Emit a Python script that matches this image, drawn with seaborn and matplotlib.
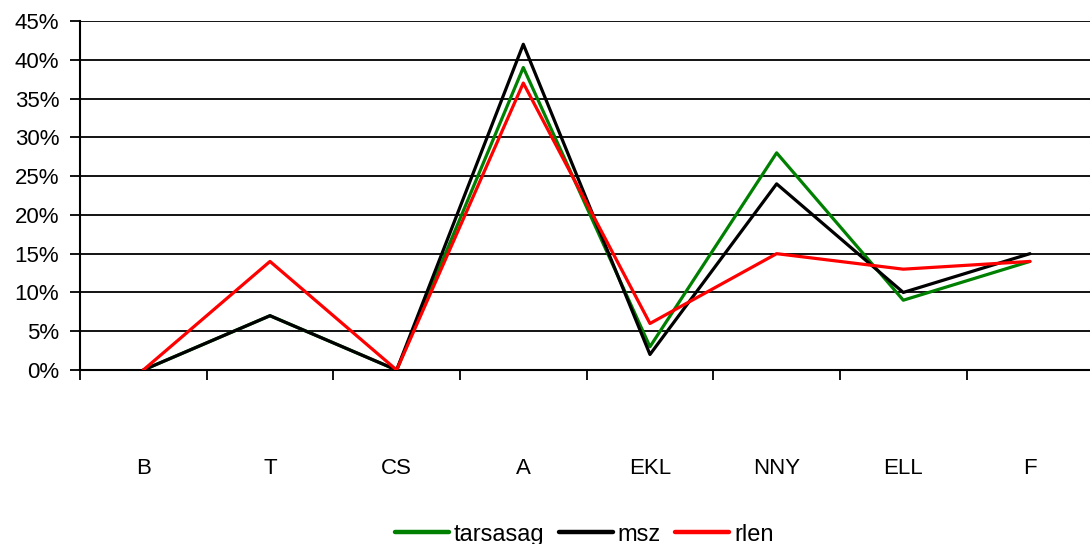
import matplotlib
matplotlib.use("Agg")
import matplotlib.pyplot as plt
import seaborn as sns
import pandas as pd
from matplotlib.ticker import FixedLocator, PercentFormatter

categories = ["B", "T", "CS", "A", "EKL", "NNY", "ELL", "F"]
tarsasag = [0, 7, 0, 39, 3, 28, 9, 14]
msz = [0, 7, 0, 42, 2, 24, 10, 15]
rlen = [0, 14, 0, 37, 6, 15, 13, 14]

series_names = ["tarsasag", "msz", "rlen"]
series_values = [tarsasag, msz, rlen]
colors = {"tarsasag": "#008000", "msz": "#000000", "rlen": "#ff0000"}

rows = []
for name, vals in zip(series_names, series_values):
    for i, (cat, v) in enumerate(zip(categories, vals)):
        rows.append({"pos": i, "cat": cat, "value": v, "series": name})
df = pd.DataFrame(rows)

sns.set_style("white")
plt.rcParams["font.family"] = ["Liberation Sans", "DejaVu Sans"]
plt.rcParams.update({"text.color": "black", "xtick.color": "black",
                     "ytick.color": "black", "axes.labelcolor": "black"})

fig = plt.figure(figsize=(10.9, 5.44), dpi=100)
ax = fig.add_axes([80 / 1090, 1 - 370 / 544, 1 - 80 / 1090 + 0.003, (370 - 21) / 544])

sns.lineplot(data=df, x="pos", y="value", hue="series", hue_order=series_names,
             palette=colors, linewidth=2.3, ax=ax, legend=True, zorder=3)

ax.set_xlim(-0.5, 7.5)
ax.set_ylim(0, 45)
ax.set_xlabel("")
ax.set_ylabel("")

# y axis: percent ticks with horizontal gridlines
ax.yaxis.set_major_locator(FixedLocator(range(0, 46, 5)))
ax.yaxis.set_major_formatter(PercentFormatter(decimals=0))
ax.grid(axis="y", color="black", linewidth=1.3, zorder=1)
ax.grid(axis="x", visible=False)

# x axis: tick marks between categories, labels centred below
ax.xaxis.set_major_locator(FixedLocator([i + 0.5 for i in range(-1, 8)]))
ax.xaxis.set_major_formatter(plt.NullFormatter())
ax.xaxis.set_minor_locator(FixedLocator(range(len(categories))))
ax.set_xticklabels(categories, minor=True)
ax.tick_params(axis="x", which="major", direction="out", length=7, width=1.3,
               color="black", bottom=True)
ax.tick_params(axis="x", which="minor", length=0, pad=63, labelsize=16,
               labelcolor="black")
ax.tick_params(axis="y", direction="out", length=7, width=1.3, color="black",
               left=True, labelsize=16, pad=8, labelcolor="black")

for side in ["top", "right"]:
    ax.spines[side].set_visible(False)
for side in ["left", "bottom"]:
    ax.spines[side].set_color("black")
    ax.spines[side].set_linewidth(1.5)

handles, labels = ax.get_legend_handles_labels()
ax.get_legend().remove()
for h in handles:
    h.set_linewidth(3.2)
leg = fig.legend(handles, labels, loc="center", bbox_to_anchor=(0.536, 0.017), ncol=3,
                 frameon=False, fontsize=17, handlelength=2.3, handletextpad=0.2,
                 columnspacing=0.6, borderaxespad=0)
for t in leg.get_texts():
    t.set_color("black")

fig.savefig("out.png", dpi=100)
